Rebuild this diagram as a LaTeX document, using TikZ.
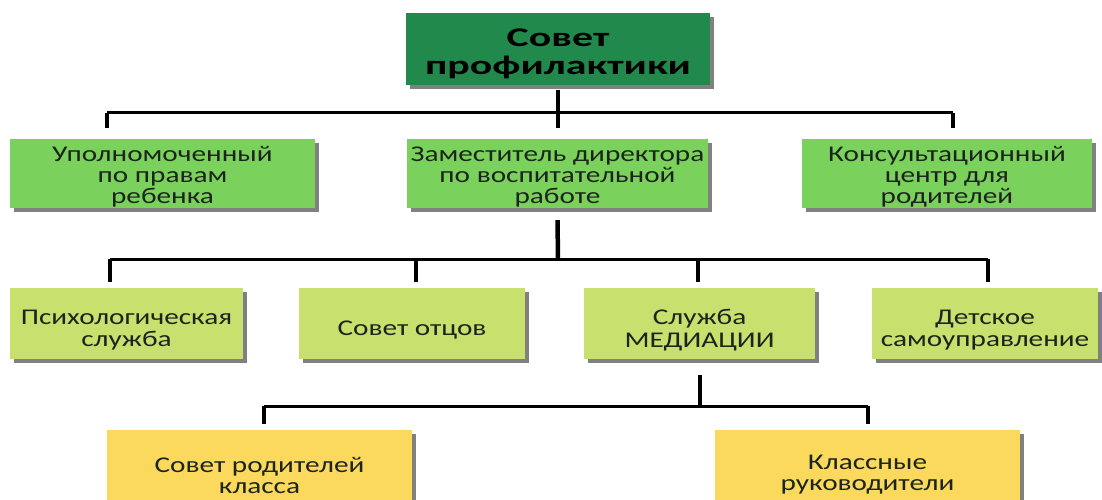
\documentclass[tikz,border=0pt]{standalone}
\usepackage{fontspec}
\setmainfont[FakeStretch=1.3]{Carlito}
\newfontfamily\topfont[FakeStretch=1.55]{Carlito}
\usetikzlibrary{shadows}
\definecolor{darkg}{RGB}{33,137,76}
\definecolor{midg}{RGB}{122,210,92}
\definecolor{lightg}{RGB}{200,224,110}
\definecolor{yel}{RGB}{251,217,92}
\definecolor{txt}{RGB}{28,36,28}
\newlength\dnamt
\newcommand\dl[1]{\raisebox{-\dnamt}[\height][\depth]{#1}}
\tikzset{
  box/.style={rectangle, inner sep=0pt, align=center, text=txt,
    font=\fontsize{22.5}{21}\selectfont,
    drop shadow={shadow xshift=4pt, shadow yshift=-4pt, fill=black!50, opacity=1}},
  topbox/.style={box, fill=darkg, text=black, font=\topfont\bfseries\fontsize{27}{28.5}\selectfont,
    execute at begin node={\setlength\dnamt{5pt}}},
  g2/.style={box, fill=midg, execute at begin node={\setlength\dnamt{3.5pt}}},
  g3/.style={box, fill=lightg, font=\fontsize{22.5}{22.5}\selectfont,
    execute at begin node={\setlength\dnamt{7pt}}},
  g4/.style={box, fill=yel, execute at begin node={\setlength\dnamt{0pt}}},
  bus/.style={line width=3pt, black},
  stem/.style={line width=4.5pt, black}
}
\begin{document}
\begin{tikzpicture}[x=1pt,y=-1pt]
\clip (0,0) rectangle (1102,500);
\fill[white] (0,0) rectangle (1102,500);
% boxes
\node[topbox, minimum width=304pt, minimum height=72pt] (top) at (558,49) {\dl{Совет}\\\dl{профилактики}};
\node[g2, minimum width=305pt, minimum height=69pt] (uf) at (162.5,173.5) {\dl{Уполномоченный}\\\dl{по правам}\\\dl{ребенка}};
\node[g2, minimum width=301pt, minimum height=69pt] (zam) at (557.5,173.5) {\dl{Заместитель директора}\\\dl{по воспитательной}\\\dl{работе}};
\node[g2, minimum width=290pt, minimum height=69pt] (kc) at (947,173.5) {\dl{Консультационный}\\\dl{центр для}\\\dl{родителей}};
\node[g3, minimum width=233pt, minimum height=71pt] (psy) at (126.5,323) {\dl{Психологическая}\\\dl{служба}};
\node[g3, minimum width=226pt, minimum height=71pt] (otc) at (412,323) {\dl{Совет отцов}};
\node[g3, minimum width=231pt, minimum height=71pt] (med) at (699.5,323) {\dl{Служба}\\\dl{МЕДИАЦИИ}};
\node[g3, minimum width=226pt, minimum height=71pt] (det) at (985,323) {\dl{Детское}\\\dl{самоуправление}};
\node[g4, minimum width=305pt, minimum height=90pt] (rod) at (259.5,475) {\dl{Совет родителей}\\\dl{класса}};
\node[g4, minimum width=305pt, minimum height=90pt] (kl) at (867.5,475) {\dl{Классные}\\\dl{руководители}};
% level 1 connectors
\coordinate (b1) at (558,113);
\coordinate (uf-in) at (107,128);
\coordinate (kc-in) at (953,128);
\coordinate (zam-in) at (558,128);
\draw[stem] ([yshift=-5pt]top.south) -- (zam-in);
\draw[bus] (uf-in |- b1) -- (kc-in |- b1);
\draw[stem] (uf-in |- b1) -- (uf-in);
\draw[stem] (kc-in |- b1) -- (kc-in);
% level 2 connectors
\coordinate (b2) at (558,259);
\coordinate (psy-in) at (110,282);
\coordinate (otc-in) at (416,282);
\coordinate (med-in) at (698,282);
\coordinate (det-in) at (988,282);
\draw[stem] ([yshift=-12pt]zam.south) -- (b2);
\draw[bus] (psy-in |- b2) -- (det-in |- b2);
\draw[stem] (psy-in |- b2) -- (psy-in);
\draw[stem] (otc-in |- b2) -- (otc-in);
\draw[stem] (med-in |- b2) -- (med-in);
\draw[stem] (det-in |- b2) -- (det-in);
% level 3 connectors
\coordinate (b3) at (700,406);
\coordinate (rod-in) at (264,424);
\coordinate (kl-in) at (868,424);
\draw[stem] ([yshift=-16pt]med.south -| b3) -- (b3);
\draw[bus] (rod-in |- b3) -- (kl-in |- b3);
\draw[stem] (rod-in |- b3) -- (rod-in);
\draw[stem] (kl-in |- b3) -- (kl-in);
\end{tikzpicture}
\end{document}
